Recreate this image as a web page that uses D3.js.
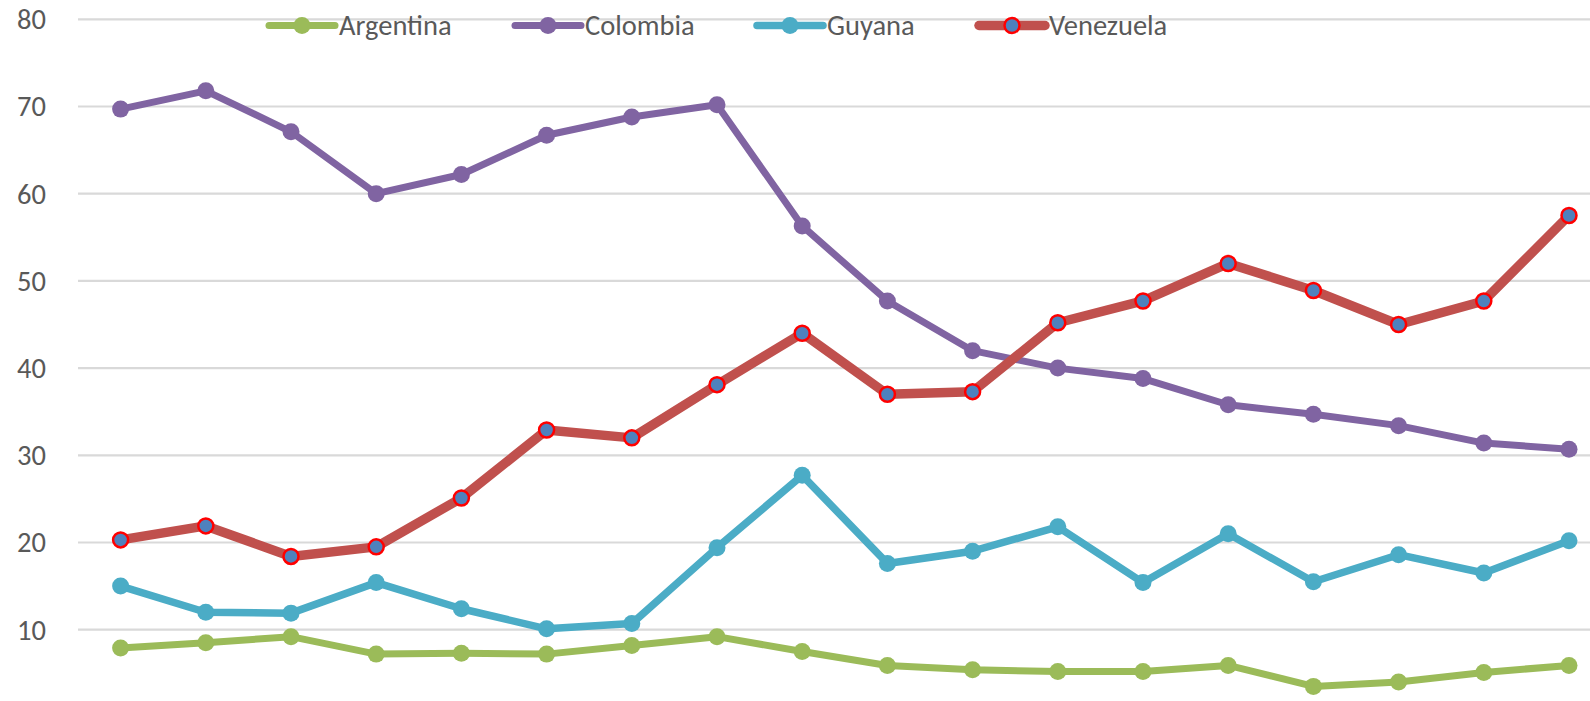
<!DOCTYPE html>
<html>
<head>
<meta charset="utf-8">
<script src="https://cdn.jsdelivr.net/npm/d3@7"></script>
<style>
  body { margin: 0; background: #fff; }
  svg { display: block; }
</style>
</head>
<body>
<div id="chart"></div>
<script>
// points along the category axis (no labels shown in the picture)
const categories = ["1", "2", "3", "4", "5", "6", "7", "8", "9", "10", "11", "12", "13", "14", "15", "16", "17", "18"];

const argentina = [7.9, 8.5, 9.2, 7.2, 7.3, 7.2, 8.2, 9.2, 7.5, 5.9, 5.4, 5.2, 5.2, 5.9, 3.5, 4.0, 5.1, 5.9];
const colombia = [69.7, 71.8, 67.1, 60.0, 62.2, 66.7, 68.8, 70.2, 56.3, 47.7, 42.0, 40.0, 38.8, 35.8, 34.7, 33.4, 31.4, 30.7];
const guyana = [15.0, 12.0, 11.9, 15.4, 12.4, 10.1, 10.7, 19.4, 27.7, 17.6, 19.0, 21.8, 15.4, 21.0, 15.5, 18.6, 16.5, 20.2];
const venezuela = [20.3, 21.9, 18.4, 19.5, 25.1, 32.9, 32.0, 38.1, 44.0, 37.0, 37.3, 45.2, 47.7, 52.0, 48.9, 45.0, 47.7, 57.5];

const yTicks = [10, 20, 30, 40, 50, 60, 70, 80];

const series = [
  { name: "Argentina", values: argentina, color: "#9BBB59", width: 7, r: 8.5, fill: "#9BBB59", stroke: "none" },
  { name: "Colombia", values: colombia, color: "#8064A2", width: 7, r: 8.5, fill: "#8064A2", stroke: "none" },
  { name: "Guyana", values: guyana, color: "#4BACC6", width: 7.5, r: 8.5, fill: "#4BACC6", stroke: "none" },
  { name: "Venezuela", values: venezuela, color: "#C0504D", width: 9.5, r: 7.5, fill: "#4F81BD", stroke: "#FF0000" },
];

const W = 1590, H = 701;
const font = "Carlito, Calibri, 'Liberation Sans', Arial, sans-serif";

const svg = d3.select("#chart").append("svg")
  .attr("width", W)
  .attr("height", H);

const plotLeft = 78, step = 85.2;
const x = d3.scaleBand()
  .domain(categories)
  .range([plotLeft, plotLeft + step * categories.length]);

const y = d3.scaleLinear()
  .domain([0, 80])
  .range([19.3 + 8 * 87.2, 19.3]);

// gridlines
svg.append("g")
  .selectAll("line")
  .data(yTicks)
  .join("line")
  .attr("x1", plotLeft)
  .attr("x2", plotLeft + step * categories.length)
  .attr("y1", d => y(d))
  .attr("y2", d => y(d))
  .attr("stroke", "#D9D9D9")
  .attr("stroke-width", 2.2);

// y axis labels
svg.append("g")
  .selectAll("text")
  .data(yTicks)
  .join("text")
  .attr("x", 46)
  .attr("y", d => y(d))
  .attr("dy", "0.35em")
  .attr("text-anchor", "end")
  .style("font-family", font)
  .style("font-size", "28.5px")
  .style("fill", "#595959")
  .text(d => d);

const cx = (d, i) => x(categories[i]) + x.bandwidth() / 2;

const line = d3.line()
  .x(cx)
  .y(d => y(d));

series.forEach(s => {
  const g = svg.append("g");
  g.append("path")
    .attr("d", line(s.values))
    .attr("fill", "none")
    .attr("stroke", s.color)
    .attr("stroke-width", s.width)
    .attr("stroke-linejoin", "round")
    .attr("stroke-linecap", "round");

  g.selectAll("circle")
    .data(s.values)
    .join("circle")
    .attr("cx", cx)
    .attr("cy", d => y(d))
    .attr("r", s.r)
    .attr("fill", s.fill)
    .attr("stroke", s.stroke)
    .attr("stroke-width", s.stroke === "none" ? 0 : 2.5);
});

// legend
const legendX = [269, 515, 757, 979];
const legend = svg.append("g")
  .selectAll("g")
  .data(series)
  .join("g")
  .attr("transform", (d, i) => `translate(${legendX[i]},25.5)`);

legend.append("line")
  .attr("x1", 0)
  .attr("x2", 66)
  .attr("stroke", d => d.color)
  .attr("stroke-width", d => d.width)
  .attr("stroke-linecap", "round");

legend.append("circle")
  .attr("cx", 33)
  .attr("r", d => d.r)
  .attr("fill", d => d.fill)
  .attr("stroke", d => d.stroke)
  .attr("stroke-width", d => d.stroke === "none" ? 0 : 2.5);

legend.append("text")
  .attr("x", 70)
  .attr("dy", "0.35em")
  .style("font-family", font)
  .style("font-size", "28.5px")
  .style("fill", "#595959")
  .text(d => d.name);
</script>
</body>
</html>
